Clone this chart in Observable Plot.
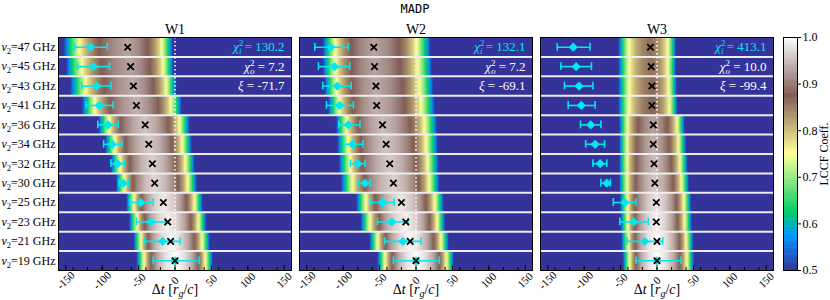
<!DOCTYPE html>
<html><head><meta charset="utf-8">
<script src="https://cdn.jsdelivr.net/npm/d3@7"></script>
<script src="https://cdn.jsdelivr.net/npm/@observablehq/plot@0.6"></script>
<style>
body{margin:0;background:#fff;}
#wrap{position:relative;width:830px;height:300px;font-family:"Liberation Serif",serif;}
#wrap svg{position:absolute;left:0;top:0;}
#wrap svg text{font-family:"Liberation Serif",serif;}
#title{position:absolute;left:0;width:830px;top:2px;text-align:center;font-family:"DejaVu Sans Mono",monospace;font-size:12px;z-index:3;}
</style></head><body>
<div id="wrap"><div id="title">MADP</div></div>
<script>
const panels = ["W1","W2","W3"];
const freqs = [47,45,43,41,36,34,32,30,25,23,21,19];

// LCCF peak (black crosses)
const lccfW1 = [-65,-61,-57,-53,-41,-36,-31,-28,-16,-10,-6,0];
const lccfW2 = [-58,-57,-55,-54,-46,-41,-36,-31,-20,-14,-8,0];
const lccfW3 = [-9,-8,-7,-7,-5,-5,-4,-3,-1,-1,0,0];

// model (cyan diamonds) with error bars
const modelW1 = [-116,-112,-108,-104,-92,-86,-79,-71,-47,-33,-17,0];
const modelLoW1 = [-138,-134,-128,-122,-106,-98,-88,-77,-62,-53,-42,-30];
const modelHiW1 = [-93,-90,-88,-85,-78,-73,-69,-64,-30,-13,7,33];
const modelW2 = [-117,-112,-108,-105,-93,-87,-80,-70,-46,-33,-18,0];
const modelLoW2 = [-139,-134,-128,-123,-106,-99,-90,-79,-62,-53,-43,-31];
const modelHiW2 = [-93,-91,-89,-86,-77,-73,-70,-63,-30,-11,7,32];
const modelW3 = [-115,-111,-107,-104,-91,-85,-78,-69,-44,-32,-17,0];
const modelLoW3 = [-137,-132,-127,-122,-105,-98,-88,-77,-60,-51,-41,-29];
const modelHiW3 = [-92,-90,-88,-85,-77,-72,-69,-64,-29,-12,8,33];

// LCCF band per row: where coefficient falls to 0.5 on each side, and peak coefficient
const heatLoW1 = [-153,-150,-144,-128,-105,-96,-88,-81,-67,-63,-57,-53];
const heatHiW1 = [-3,-2,2,9,20,23,27,30,38,43,48,52];
const heatPeakW1 = [0.93,0.93,0.935,0.94,0.955,0.96,0.965,0.97,0.985,0.99,0.995,1.0];
const heatLoW2 = [-128,-128,-126,-121,-110,-108,-106,-103,-82,-76,-64,-53];
const heatHiW2 = [20,22,24,26,29,30,31,32,38,40,45,52];
const heatPeakW2 = [0.93,0.93,0.935,0.94,0.95,0.955,0.96,0.965,0.98,0.99,0.995,1.0];
const heatLoW3 = [-53,-53,-53,-53,-52,-52,-52,-52,-51,-50,-49,-47];
const heatHiW3 = [26,26,27,28,38,40,42,44,47,48,50,51];
const heatPeakW3 = [0.86,0.86,0.865,0.87,0.93,0.94,0.95,0.96,0.98,0.99,1.0,1.0];

// shared profile shape (fraction from edge to peak -> fraction of peak height)
const shapeU = [0,0.04,0.08,0.14,0.2,0.3,0.42,0.55,0.75,1];
const shapeF = [0,0.12,0.24,0.38,0.5,0.66,0.78,0.87,0.95,1];

const chiI = [130.2,132.1,413.1];
const chiO = [7.2,7.2,10.0];
const xiVal = [-71.7,-69.1,-99.4];

const xTicks = [-150,-100,-50,0,50,100,150];
const cbTicks = [0.5,0.6,0.7,0.8,0.9,1.0];

const CYAN = "#00e8f0";
const byPanel = {
  W1:{lccf:lccfW1, m:modelW1, lo:modelLoW1, hi:modelHiW1, hL:heatLoW1, hH:heatHiW1, pk:heatPeakW1},
  W2:{lccf:lccfW2, m:modelW2, lo:modelLoW2, hi:modelHiW2, hL:heatLoW2, hH:heatHiW2, pk:heatPeakW2},
  W3:{lccf:lccfW3, m:modelW3, lo:modelLoW3, hi:modelHiW3, hL:heatLoW3, hH:heatHiW3, pk:heatPeakW3}
};

const pts = [];
const heatRows = freqs.map(() => []);
panels.forEach(p => {
  const d = byPanel[p];
  freqs.forEach((f, i) => {
    pts.push({panel:p, row:i, lccf:d.lccf[i], cyan:d.m[i], lo:d.lo[i], hi:d.hi[i]});
    const c = d.lccf[i], L = d.hL[i], R = d.hH[i], pk = d.pk[i];
    const knots = [[-160,0.5]];
    shapeU.forEach((u,k) => knots.push([L + u*(c-L), 0.5 + shapeF[k]*(pk-0.5)]));
    for (let k = shapeU.length-2; k >= 0; k--) knots.push([R - shapeU[k]*(R-c), 0.5 + shapeF[k]*(pk-0.5)]);
    knots.push([160,0.5]);
    for (const [x,v] of knots) {
      heatRows[i].push({panel:p, x, y:i-0.5, v});
      heatRows[i].push({panel:p, x, y:i+0.5, v});
    }
  });
});

const seps = freqs.slice(1).map((_, i) => i + 0.5);
const minorTicks = d3.range(-140, 160, 20);
const rowsIdx = freqs.map((_, i) => i);

const colorCfg = {type:"linear", domain:[0.5,0.575,0.625,0.75,0.875,1.0],
  range:["#333399","#0099ff","#00cc66","#ffff99","#805c54","#ffffff"], interpolate:"rgb", clamp:true};

const FONT = '"Liberation Serif", serif';

const main = Plot.plot({
  width: 830, height: 300,
  marginLeft: 58, marginRight: 56, marginTop: 37, marginBottom: 30,
  style: {fontFamily: FONT, background: "white", overflow: "visible"},
  fx: {domain: panels, paddingInner: 0.033, paddingOuter: 0, label: null},
  x: {domain: [-160,160]},
  y: {domain: [11.5,-0.5], axis: null},
  color: colorCfg,
  marks: [
    ...heatRows.map((rowData, i) => Plot.raster(rowData, {x:"x", y:"y", fill:"v", fx:"panel",
      interpolate:"barycentric", x1:-160, x2:160, y1:i-0.5, y2:i+0.5})),
    Plot.ruleY(seps, {y: d => d, stroke: "#eeeeee", strokeWidth: 2}),
    Plot.ruleX([0], {stroke: "white", strokeWidth: 1.6, strokeDasharray: "1.6,2.4"}),
    Plot.ruleY(pts, {fx:"panel", y:"row", x1:"lo", x2:"hi", stroke:CYAN, strokeWidth:1.6}),
    Plot.ruleX(pts, {fx:"panel", x:"lo", y1: d => d.row-0.2, y2: d => d.row+0.2, stroke:CYAN, strokeWidth:1.6}),
    Plot.ruleX(pts, {fx:"panel", x:"hi", y1: d => d.row-0.2, y2: d => d.row+0.2, stroke:CYAN, strokeWidth:1.6}),
    Plot.dot(pts, {fx:"panel", x:"cyan", y:"row", symbol:"diamond2", r:4.2, fill:CYAN}),
    Plot.dot(pts, {fx:"panel", x:"lccf", y:"row", symbol:"times", r:3, stroke:"black", strokeWidth:1.8}),
    Plot.ruleX(minorTicks, {x: d => d, y1: 11.5, y2: 11.35, stroke: "black", strokeWidth: 1}),
    Plot.ruleX(xTicks, {x: d => d, y1: 11.5, y2: 11.25, stroke: "black", strokeWidth: 1}),
    Plot.frame({stroke: "black", strokeWidth: 1}),
    Plot.axisFx({anchor: "top", tickSize: 0, tickPadding: 4, fontSize: 14, label: null}),
    Plot.axisX({ticks: xTicks, tickRotate: -45, tickSize: 0, tickPadding: 10, fontSize: 11,
      textAnchor: "middle", lineAnchor: "middle", tickFormat: d => String(d), label: null}),
    Plot.text(rowsIdx, {fx: () => "W1", y: d => d, text: d => `ν2=${freqs[d]} GHz`, frameAnchor: "left",
      textAnchor: "end", lineAnchor: "middle", dx: -3, fontSize: 12, fill: "black", ariaDescription: "ylab"}),
    Plot.text(panels, {fx: d => d, y: 0, text: (d, i) => String(chiI[i].toFixed(1)), frameAnchor: "right",
      textAnchor: "end", lineAnchor: "middle", dx: -7, fontSize: 13, fill: CYAN, ariaDescription: "chiI"}),
    Plot.text(panels, {fx: d => d, y: 1, text: (d, i) => String(chiO[i].toFixed(1)), frameAnchor: "right",
      textAnchor: "end", lineAnchor: "middle", dx: -7, fontSize: 13, fill: "white", ariaDescription: "chiO"}),
    Plot.text(panels, {fx: d => d, y: 2, text: (d, i) => String(xiVal[i].toFixed(1)), frameAnchor: "right",
      textAnchor: "end", lineAnchor: "middle", dx: -7, fontSize: 13, fill: "white", ariaDescription: "xi"}),
    Plot.text(panels, {fx: d => d, text: () => "Δt [rg/c]", frameAnchor: "bottom", textAnchor: "middle",
      lineAnchor: "middle", dy: 19, fontSize: 14, fill: "black", ariaDescription: "xlab"})
  ]
});

function sel(label) {
  return main.querySelectorAll(`g[aria-description="${label}"] text`);
}
sel("ylab").forEach(t => {
  const rest = t.textContent.replace("ν2", "");
  t.innerHTML = `<tspan font-style="italic">ν</tspan><tspan font-size="8.5" dy="3">2</tspan><tspan dy="-3">${rest}</tspan>`;
});
sel("chiI").forEach(t => {
  const v = t.textContent;
  t.innerHTML = `<tspan font-style="italic">χ</tspan><tspan font-size="9" dy="-5">2</tspan><tspan font-size="9" font-style="italic" dx="-4.5" dy="8">i</tspan><tspan dy="-3"> = ${v}</tspan>`;
});
sel("chiO").forEach(t => {
  const v = t.textContent;
  t.innerHTML = `<tspan font-style="italic">χ</tspan><tspan font-size="9" dy="-5">2</tspan><tspan font-size="9" font-style="italic" dx="-4.5" dy="8">o</tspan><tspan dy="-3"> = ${v}</tspan>`;
});
sel("xi").forEach(t => {
  const v = t.textContent;
  t.innerHTML = `<tspan font-style="italic">ξ</tspan> = ${v}`;
});
sel("xlab").forEach(t => {
  t.innerHTML = `Δ<tspan font-style="italic">t</tspan> [<tspan font-style="italic">r</tspan><tspan font-size="10" font-style="italic" dy="3">g</tspan><tspan dy="-3">/</tspan><tspan font-style="italic">c</tspan>]`;
});

const step = 0.0025;
const levels = d3.range(0.5, 1.0 - step/2, step);
const cb = Plot.plot({
  width: 830, height: 300,
  marginLeft: 783, marginRight: 33, marginTop: 37, marginBottom: 30,
  style: {fontFamily: FONT, background: "transparent", overflow: "visible"},
  x: {domain: [0,1], axis: null},
  y: {domain: [0.5,1.0], axis: null},
  color: colorCfg,
  marks: [
    Plot.rect(levels, {x1: 0, x2: 1, y1: d => d, y2: d => Math.min(1, d + step*1.5), fill: d => d + step/2}),
    Plot.frame({stroke: "black"}),
    Plot.axisY({anchor: "right", ticks: cbTicks, tickFormat: d => d.toFixed(1), tickSize: 3, tickPadding: 2, fontSize: 12, label: null}),
    Plot.text(["LCCF Coeff."], {frameAnchor: "right", dx: 27, rotate: -90, fontSize: 12, textAnchor: "middle", lineAnchor: "middle", fill: "black"})
  ]
});

const wrap = document.getElementById("wrap");
wrap.appendChild(main);
wrap.appendChild(cb);
</script>
</body></html>
